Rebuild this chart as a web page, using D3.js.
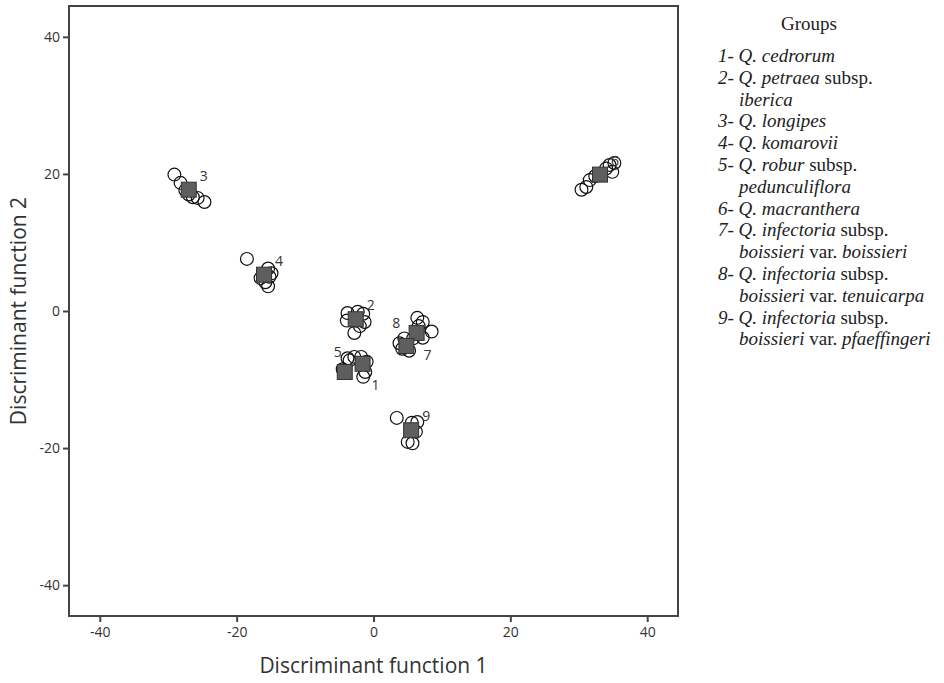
<!DOCTYPE html>
<html>
<head>
<meta charset="utf-8">
<script src="https://cdn.jsdelivr.net/npm/d3@7"></script>
<style>
  body { margin: 0; background: #fff; }
  .tick text { font-family: "Open Sans", sans-serif; font-size: 14px; fill: #333; }
  .tick line { stroke: #444; stroke-width: 2px; }
</style>
</head>
<body>
<svg id="chart" width="944" height="683"></svg>
<script>
// group ids
const groups = [1, 2, 3, 4, 5, 6, 7, 8, 9];

// individual cases, [function 1, function 2], per group
const cases1 = [[-2.8, -6.7], [-1.8, -6.7], [-1.0, -7.4], [-1.2, -8.9], [-1.5, -9.6]];
const cases2 = [[-3.8, -0.3], [-2.3, -0.1], [-1.5, -0.4], [-1.3, -1.6], [-2.8, -3.2], [-3.9, -1.4], [-2.0, -2.2]];
const cases3 = [[-29.1, 19.9], [-28.2, 18.7], [-27.5, 17.6], [-26.4, 16.6], [-25.7, 16.5], [-24.7, 15.9], [-27.0, 17.0]];
const cases4 = [[-18.5, 7.6], [-15.4, 6.2], [-15.2, 5.0], [-15.8, 4.2], [-15.4, 3.6], [-16.5, 4.8], [-14.9, 5.5]];
const cases5 = [[-3.8, -6.9], [-4.5, -8.5], [-3.5, -7.2]];
const cases6 = [[30.4, 17.7], [31.1, 18.1], [31.6, 19.1], [32.4, 19.7], [34.5, 21.3], [35.2, 21.6], [34.9, 20.3], [34.0, 20.8]];
const cases7 = [[6.4, -1.0], [7.2, -1.6], [8.5, -3.0], [7.2, -3.9], [6.6, -2.2], [5.8, -4.0]];
const cases8 = [[3.8, -4.7], [4.5, -4.0], [5.2, -5.8], [4.2, -5.5]];
const cases9 = [[3.4, -15.6], [5.6, -16.3], [6.4, -16.2], [5.0, -19.1], [5.7, -19.3], [6.2, -17.6]];
const allCases = [cases1, cases2, cases3, cases4, cases5, cases6, cases7, cases8, cases9];

// group centroids
const centroidX = [-1.6, -2.6, -27.0, -16.0, -4.2, 33.1, 6.3, 4.8, 5.5];
const centroidY = [-7.7, -1.2, 17.7, 5.3, -8.9, 19.9, -3.2, -5.1, -17.4];

const tickValues = [-40, -20, 0, 20, 40];
const xTitle = "Discriminant function 1";
const yTitle = "Discriminant function 2";
const legendTitle = "Groups";

// legend lines: [text, italic]
const legendLines = [
  [["1- Q. cedrorum", true]],
  [["2- Q. petraea", true], [" subsp.", false]],
  [["iberica", true]],
  [["3- Q. longipes", true]],
  [["4- Q. komarovii", true]],
  [["5- Q. robur", true], [" subsp.", false]],
  [["pedunculiflora", true]],
  [["6- Q. macranthera", true]],
  [["7- Q. infectoria", true], [" subsp.", false]],
  [["boissieri", true], [" var. ", false], ["boissieri", true]],
  [["8- Q. infectoria", true], [" subsp.", false]],
  [["boissieri", true], [" var. ", false], ["tenuicarpa", true]],
  [["9- Q. infectoria", true], [" subsp.", false]],
  [["boissieri", true], [" var. ", false], ["pfaeffingeri", true]]
];
const legendIndent = [false, false, true, false, false, false, true, false, false, true, false, true, false, true];

const svg = d3.select("#chart");

const x = d3.scaleLinear().domain([-44.5, 44.5]).range([69, 678]);
const y = d3.scaleLinear().domain([-44.5, 44.5]).range([616, 6]);

// plain hyphen for negatives, like the original
const fmt = d => String(d);

// axes
svg.append("g")
    .attr("transform", "translate(0,616)")
    .call(d3.axisBottom(x).tickValues(tickValues).tickFormat(fmt).tickSize(6).tickPadding(5))
    .call(g => g.select(".domain").remove());

svg.append("g")
    .attr("transform", "translate(69,0)")
    .call(d3.axisLeft(y).tickValues(tickValues).tickFormat(fmt).tickSize(6).tickPadding(3))
    .call(g => g.select(".domain").remove());

// frame
svg.append("rect")
    .attr("x", x.range()[0])
    .attr("y", y.range()[1])
    .attr("width", x.range()[1] - x.range()[0])
    .attr("height", y.range()[0] - y.range()[1])
    .attr("fill", "none")
    .attr("stroke", "#444")
    .attr("stroke-width", 2);

// titles
svg.append("text")
    .attr("x", x(0))
    .attr("y", 673)
    .attr("text-anchor", "middle")
    .style("font-family", "'Open Sans', sans-serif")
    .style("font-size", "21px")
    .style("fill", "#333")
    .text(xTitle);

svg.append("text")
    .attr("transform", `translate(26,${y(0)}) rotate(-90)`)
    .attr("text-anchor", "middle")
    .style("font-family", "'Open Sans', sans-serif")
    .style("font-size", "21px")
    .style("fill", "#333")
    .text(yTitle);

// cases
const caseData = allCases.flatMap((pts, i) => pts.map(p => ({ g: groups[i], x: p[0], y: p[1] })));

svg.append("g")
    .selectAll("circle")
    .data(caseData)
    .join("circle")
    .attr("cx", d => x(d.x))
    .attr("cy", d => y(d.y))
    .attr("r", 6.4)
    .attr("fill", "none")
    .attr("stroke", "#111")
    .attr("stroke-width", 1.2);

// centroids
const cents = groups.map((g, i) => ({ g: g, x: centroidX[i], y: centroidY[i] }));
const sq = 15;

svg.append("g")
    .selectAll("rect")
    .data(cents)
    .join("rect")
    .attr("x", d => x(d.x) - sq / 2)
    .attr("y", d => y(d.y) - sq / 2)
    .attr("width", sq)
    .attr("height", sq)
    .attr("fill", "#5e5e5e")
    .attr("stroke", "#333")
    .attr("stroke-width", 1);

// group number labels, pixel offset from the centroid
const labelOffset = { 1: [13, 26], 5: [-7, -15], 7: [11, 27], 8: [-10, -18] };

svg.append("g")
    .selectAll("text")
    .data(cents)
    .join("text")
    .attr("x", d => x(d.x) + (labelOffset[d.g] || [15, -9])[0])
    .attr("y", d => y(d.y) + (labelOffset[d.g] || [15, -9])[1])
    .attr("text-anchor", "middle")
    .style("font-family", "'Open Sans', sans-serif")
    .style("font-size", "14px")
    .style("fill", "#333")
    .text(d => d.g);

// legend
const legend = svg.append("g").style("font-family", "'Liberation Serif', 'Times New Roman', serif")
    .style("font-size", "19px")
    .style("fill", "#222");

legend.append("text")
    .attr("x", 809)
    .attr("y", 30)
    .attr("text-anchor", "middle")
    .text(legendTitle);

legend.selectAll("text.item")
    .data(legendLines)
    .join("text")
    .attr("class", "item")
    .attr("x", (d, i) => legendIndent[i] ? 739 : 718)
    .attr("y", (d, i) => 62 + i * 21.8)
    .selectAll("tspan")
    .data(d => d)
    .join("tspan")
    .style("font-style", d => d[1] ? "italic" : "normal")
    .attr("xml:space", "preserve")
    .text(d => d[0]);
</script>
</body>
</html>
